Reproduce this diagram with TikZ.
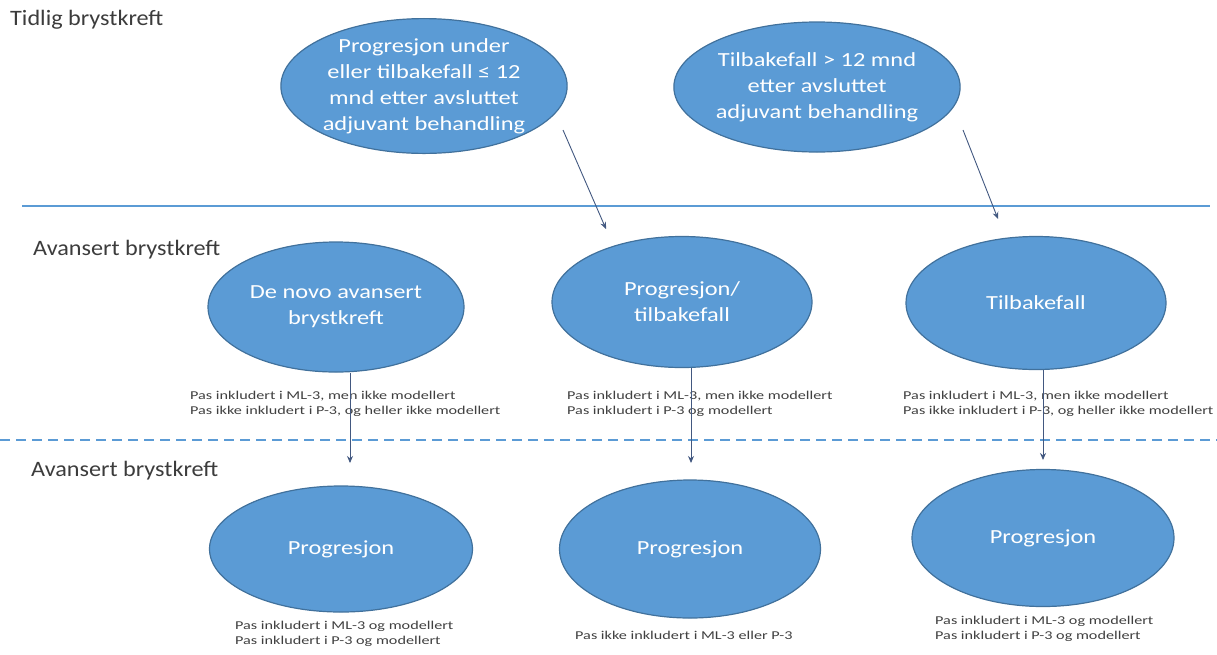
\documentclass[tikz,border=0pt]{standalone}
\usepackage{fontspec}
\setmainfont{Carlito}[FakeStretch=1.1]
\newfontfamily\stagefont{Carlito}[FakeStretch=1.22]
\newfontfamily\notefont{Carlito}[FakeStretch=1.35]
\usepackage{tikz}
\definecolor{stagefill}{RGB}{91,155,213}
\definecolor{stageline}{RGB}{65,113,156}
\definecolor{flowline}{RGB}{66,88,128}
\definecolor{heading}{RGB}{60,60,60}
\usetikzlibrary{shapes.geometric,arrows.meta}

\begin{document}
\begin{tikzpicture}[x=1pt,y=-1pt,
        stage/.style={ellipse,fill=stagefill,draw=stageline,line width=1.2pt,text=white,
            align=center,inner sep=0pt,font=\stagefont\fontsize{20}{26}\selectfont},
        note/.style={anchor=north west,inner sep=0pt,align=left,text=black!75,
            font=\notefont\fontsize{12}{15}\selectfont},
        tag/.style={anchor=west,inner sep=0pt,text=heading,font=\fontsize{22}{24}\selectfont},
        flow/.style={draw=flowline,line width=0.9pt,-{Stealth[length=7pt,width=6pt]}},
        divider/.style={draw=stagefill,line width=1.3pt}]
        \useasboundingbox (0,0) rectangle (1217,654);

        % faser
        \node[tag] (tidlig) at (10,20) {Tidlig brystkreft};
        \node[tag] (avansert1) at (33,250) {Avansert brystkreft};
        \node[tag] (avansert2) at (31,471) {Avansert brystkreft};

        \draw[divider] (22,206) -- (1210,206);
        \draw[divider,dash pattern=on 10pt off 6pt] (0,440) -- (1217,440);

        % tidlig
        \node[stage,minimum width=286pt,minimum height=128pt] (t1) at (424,86)
            {Progresjon under\\eller tilbakefall ≤ 12\\mnd etter avsluttet\\adjuvant behandling};
        \node[stage,minimum width=282pt,minimum height=130pt] (t2) at (817,87)
            {Tilbakefall > 12 mnd\\etter avsluttet\\adjuvant behandling};

        % avansert
        \node[stage,minimum width=256pt,minimum height=130pt] (m1) at (336,307)
            {De novo avansert\\brystkreft};
        \node[stage,minimum width=260pt,minimum height=131pt] (m2) at (682,302)
            {Progresjon/\\tilbakefall};
        \node[stage,minimum width=260pt,minimum height=133pt] (m3) at (1036,303)
            {Tilbakefall};

        \node[stage,minimum width=263pt,minimum height=126pt] (b1) at (341,549) {Progresjon};
        \node[stage,minimum width=261pt,minimum height=138pt] (b2) at (690,549) {Progresjon};
        \node[stage,minimum width=262pt,minimum height=137pt] (b3) at (1043,538) {Progresjon};

        % notater
        \node[note] (n1) at (190,391) {Pas inkludert i ML-3, men ikke modellert\\Pas ikke inkludert i P-3, og heller ikke modellert};
        \node[note] (n2) at (567,391) {Pas inkludert i ML-3, men ikke modellert\\Pas inkludert i P-3 og modellert};
        \node[note] (n3) at (903,391) {Pas inkludert i ML-3, men ikke modellert\\Pas ikke inkludert i P-3, og heller ikke modellert};
        \node[note] (n4) at (235,621) {Pas inkludert i ML-3 og modellert\\Pas inkludert i P-3 og modellert};
        \node[note] (n5) at (575,631) {Pas ikke inkludert i ML-3 eller P-3};
        \node[note] (n6) at (935,616) {Pas inkludert i ML-3 og modellert\\Pas inkludert i P-3 og modellert};

        % piler
        \coordinate (s1) at (563,130);
        \coordinate (e1) at (606,229);
        \coordinate (s2) at (963,130);
        \coordinate (e2) at (998,219);
        \draw[flow] (s1) -- (e1);
        \draw[flow] (s2) -- (e2);

        \coordinate (d1) at (350,463);
        \coordinate (d2) at (691,463);
        \coordinate (d3) at (1043,460);
        \draw[flow] (m1.south -| d1) -- (d1);
        \draw[flow] (m2.south -| d2) -- (d2);
        \draw[flow] (m3.south -| d3) -- (d3);
    \end{tikzpicture}
\end{document}
